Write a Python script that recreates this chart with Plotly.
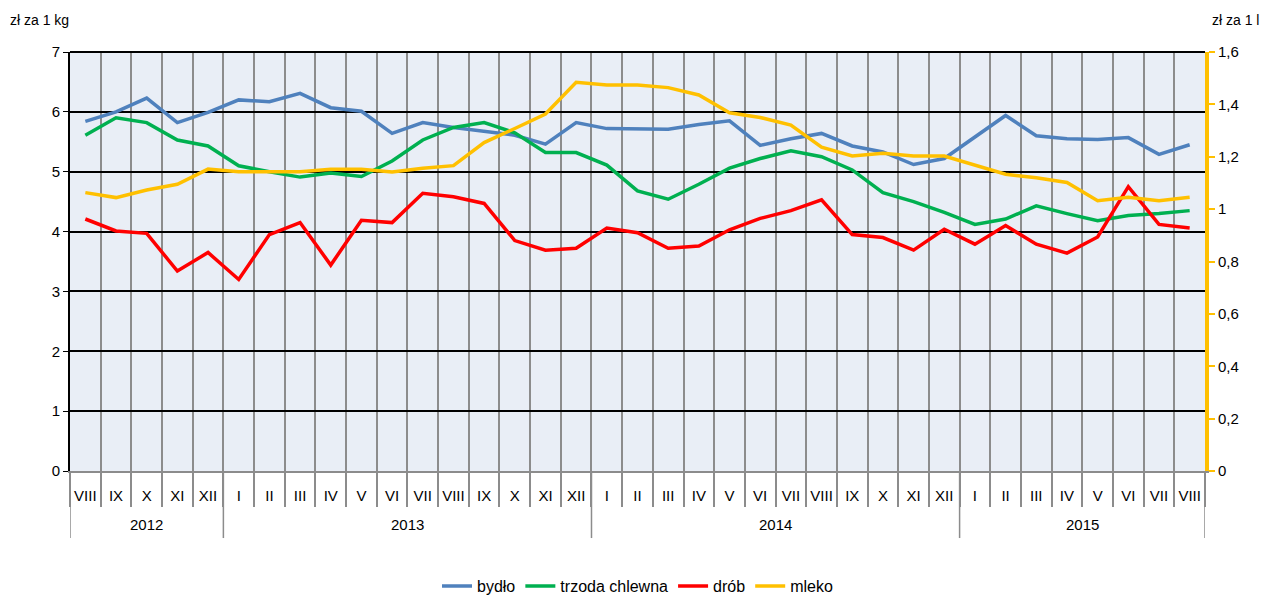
import plotly.graph_objects as go

FONT = "Liberation Sans, Arial, sans-serif"
BLUE = "#4F81BD"; GREEN = "#00B050"; RED = "#FF0000"; GOLD = "#FFC000"
GRID = "#8C8C8C"

months = ["VIII", "IX", "X", "XI", "XII",
          "I", "II", "III", "IV", "V", "VI", "VII", "VIII", "IX", "X", "XI", "XII",
          "I", "II", "III", "IV", "V", "VI", "VII", "VIII", "IX", "X", "XI", "XII",
          "I", "II", "III", "IV", "V", "VI", "VII", "VIII"]
year_labels = ["2012", "2013", "2014", "2015"]
year_counts = [5, 12, 12, 8]

bydlo = [5.84, 6.00, 6.23, 5.82, 5.99, 6.20, 6.17, 6.31, 6.07, 6.01, 5.64, 5.82, 5.74,
         5.67, 5.61, 5.46, 5.82, 5.72, 5.71, 5.71, 5.79, 5.85, 5.44, 5.55, 5.64,
         5.43, 5.33, 5.12, 5.22, 5.58, 5.94, 5.60, 5.55, 5.54, 5.57, 5.29, 5.45]
trzoda = [5.61, 5.90, 5.82, 5.53, 5.43, 5.10, 5.00, 4.91, 4.98, 4.92, 5.18, 5.53, 5.74,
          5.82, 5.65, 5.32, 5.32, 5.11, 4.68, 4.54, 4.79, 5.06, 5.22, 5.35, 5.25,
          5.03, 4.65, 4.50, 4.32, 4.12, 4.21, 4.43, 4.30, 4.18, 4.27, 4.30, 4.35]
drob = [4.21, 4.01, 3.97, 3.34, 3.65, 3.20, 3.95, 4.15, 3.44, 4.19, 4.15, 4.64, 4.58,
        4.47, 3.85, 3.69, 3.72, 4.06, 3.98, 3.72, 3.76, 4.03, 4.22, 4.35, 4.53,
        3.95, 3.90, 3.69, 4.04, 3.79, 4.10, 3.79, 3.64, 3.91, 4.75, 4.12, 4.06]
mleko = [1.063, 1.044, 1.073, 1.095, 1.153, 1.143, 1.143, 1.143, 1.152, 1.152, 1.142, 1.156, 1.166,
         1.254, 1.308, 1.363, 1.484, 1.474, 1.474, 1.464, 1.436, 1.368, 1.350, 1.321, 1.237,
         1.203, 1.213, 1.203, 1.203, 1.168, 1.133, 1.120, 1.102, 1.032, 1.045, 1.032, 1.045]

idx = list(range(len(months)))
fig = go.Figure()
for name, vals, c in [("bydło", bydlo, BLUE), ("trzoda chlewna", trzoda, GREEN), ("drób", drob, RED)]:
    fig.add_trace(go.Scatter(x=idx, y=vals, name=name, mode="lines",
                             line=dict(color=c, width=3.5)))
fig.add_trace(go.Scatter(x=idx, y=mleko, name="mleko", mode="lines", yaxis="y2",
                         line=dict(color=GOLD, width=3.5)))

# podpisy lat i dłuższe separatory pod osią
shapes, annots = [], []
start = -0.5
for lab, n in zip(year_labels, year_counts):
    shapes.append(dict(type="line", xref="x", yref="paper", x0=start, x1=start, y0=0, y1=-0.16,
                       line=dict(color=GRID, width=1.5)))
    annots.append(dict(text=lab, xref="x", yref="paper", x=start + n / 2, y=-0.127,
                       showarrow=False, font=dict(size=15), yanchor="middle"))
    start += n
shapes.append(dict(type="line", xref="x", yref="paper", x0=start, x1=start, y0=0, y1=-0.16,
                   line=dict(color=GRID, width=1.5)))
shapes.append(dict(type="line", xref="paper", yref="paper", x0=0, x1=1, y0=1, y1=1,
                   line=dict(color="black", width=2)))
annots += [
    dict(text="zł za 1 kg", xref="paper", yref="paper", x=-0.055, y=1.076,
         xanchor="left", yanchor="middle", showarrow=False, font=dict(size=14)),
    dict(text="zł za 1 l", xref="paper", yref="paper", x=1.049, y=1.076,
         xanchor="right", yanchor="middle", showarrow=False, font=dict(size=14)),
]

fig.update_layout(
    width=1265, height=596,
    margin=dict(l=70, r=60, t=52, b=125, autoexpand=False),
    paper_bgcolor="white", plot_bgcolor="#E9EEF6",
    font=dict(family=FONT, size=15, color="black"),
    separators=", ",
    legend=dict(orientation="h", x=0.5, xanchor="center", y=-0.275, yanchor="middle",
                font=dict(size=16), entrywidth=0),
    xaxis=dict(range=[-0.5, len(months) - 0.5], tickmode="array", tickvals=idx, ticktext=months,
               ticks="outside", ticklen=10, tickcolor="rgba(0,0,0,0)", showgrid=False,
               zeroline=False, showline=True, linecolor=GRID, linewidth=2, automargin=False,
               minor=dict(tick0=-0.5, dtick=1, showgrid=True, gridcolor=GRID, gridwidth=2,
                          ticks="outside", ticklen=34, tickcolor=GRID, tickwidth=1.5)),
    yaxis=dict(range=[0, 7], dtick=1, showgrid=True, gridcolor="black", gridwidth=1.5,
               showline=True, linecolor="black", linewidth=2, ticks="outside",
               ticklen=5, tickcolor="black", zeroline=False, automargin=False),
    yaxis2=dict(range=[0, 1.6], dtick=0.2, overlaying="y", side="right", showgrid=False,
                showline=True, linecolor=GOLD, linewidth=4, ticks="outside", ticklen=6,
                tickcolor=GOLD, tickwidth=2, zeroline=False, tickformat=",.1~f",
                automargin=False),
    annotations=annots,
    shapes=shapes,
)

fig.write_html("out.html", config={"displayModeBar": False},
               post_script="document.body.style.margin='0';")
